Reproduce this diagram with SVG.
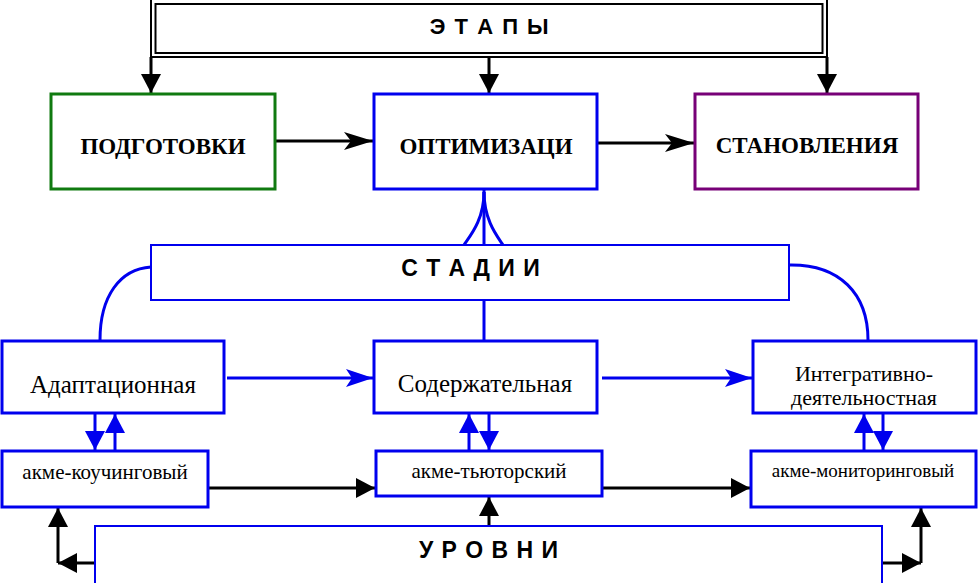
<svg xmlns="http://www.w3.org/2000/svg" width="978" height="583" viewBox="0 0 978 583">
<style>
.box{fill:#fff;stroke-width:3}
.bl{stroke:#0000ee}
.thin{stroke:#0000ee;stroke-width:2;fill:#fff}
.k{stroke:#000;stroke-width:3;fill:none}
.b{stroke:#0000ee;stroke-width:3;fill:none}
.hdr{font-family:"Liberation Sans",Arial,sans-serif;font-weight:bold;font-size:22px;letter-spacing:1.5px;text-anchor:middle;fill:#000}
.tb{font-family:"Liberation Serif","Times New Roman",serif;font-weight:bold;font-size:23px;text-anchor:middle;fill:#000}
.tn{font-family:"Liberation Serif","Times New Roman",serif;font-size:25px;text-anchor:middle;fill:#000}
.ts{font-family:"Liberation Serif","Times New Roman",serif;font-size:21px;text-anchor:middle;fill:#000}
</style>
<defs>
<marker id="tk" viewBox="0 0 19 20" refX="19" refY="10" markerWidth="19" markerHeight="20" markerUnits="userSpaceOnUse" orient="auto"><path d="M0,0 L19,10 L0,20 z" fill="#000"/></marker>
<marker id="tb" viewBox="0 0 19 20" refX="19" refY="10" markerWidth="19" markerHeight="20" markerUnits="userSpaceOnUse" orient="auto"><path d="M0,0 L19,10 L0,20 z" fill="#0000ee"/></marker>
<marker id="bk" viewBox="0 0 29 18" refX="29" refY="9" markerWidth="29" markerHeight="18" markerUnits="userSpaceOnUse" orient="auto"><path d="M0,0 L29,9 L0,18 L7,9 z" fill="#000"/></marker>
<marker id="bb" viewBox="0 0 27 18" refX="27" refY="9" markerWidth="27" markerHeight="18" markerUnits="userSpaceOnUse" orient="auto"><path d="M0,0 L27,9 L0,18 L6,9 z" fill="#0000ee"/></marker>
</defs>

<g id="connectors">
<path class="k" d="M151,57 V93" marker-end="url(#tk)"/>
<path class="k" d="M489,57 V93" marker-end="url(#tk)"/>
<path class="k" d="M827,57 V93" marker-end="url(#tk)"/>
<path class="k" d="M275,141 H373" marker-end="url(#bk)"/>
<path class="k" d="M597,143 H694" marker-end="url(#bk)"/>
<path class="b" d="M484,190 V245"/>
<path class="b" stroke-width="2.5" d="M484,192 C484,220 470,236 464,245"/>
<path class="b" stroke-width="2.5" d="M484,192 C484,220 497,236 503,245"/>
<path class="b" d="M484,300 V341"/>
<path class="b" d="M151,267 C120,269 100,296 100,340"/>
<path class="b" d="M789,265 C840,264 868,294 868,340"/>
<path class="b" d="M227,378 H373" marker-end="url(#bb)"/>
<path class="b" d="M602,378 H752" marker-end="url(#bb)"/>
<path class="b" d="M95,413 V450" marker-end="url(#tb)"/>
<path class="b" d="M115,451 V414" marker-end="url(#tb)"/>
<path class="b" d="M469,451 V414" marker-end="url(#tb)"/>
<path class="b" d="M489,413 V450" marker-end="url(#tb)"/>
<path class="b" d="M864,451 V414" marker-end="url(#tb)"/>
<path class="b" d="M883,413 V450" marker-end="url(#tb)"/>
<path class="k" d="M208,488 H375" marker-end="url(#tk)"/>
<path class="k" d="M602,488 H750" marker-end="url(#tk)"/>
<path class="k" d="M489,526 V497" marker-end="url(#tk)"/>
<path class="k" d="M95,563 H58" marker-end="url(#tk)"/>
<path class="k" d="M58,563 V508" marker-end="url(#tk)"/>
<path class="k" d="M882,563 H921" marker-end="url(#tk)"/>
<path class="k" d="M921,563 V508" marker-end="url(#tk)"/>
</g>

<g id="etapy">
<rect x="151" y="-3" width="676" height="60" fill="#fff" stroke="#000" stroke-width="2"/>
<rect x="155.5" y="4" width="667" height="49" fill="#fff" stroke="#000" stroke-width="2"/>
<text class="hdr" x="490" y="34">Э Т А П Ы</text>
</g>

<g id="podgotovki">
<rect class="box" x="51" y="94" width="224" height="95" stroke="#107a10"/>
<text class="tb" x="163" y="154">ПОДГОТОВКИ</text>
</g>
<g id="optimizatsi">
<rect class="box bl" x="374" y="94" width="223" height="95"/>
<text class="tb" x="486" y="154">ОПТИМИЗАЦИ</text>
</g>
<g id="stanovleniya">
<rect class="box" x="695" y="94" width="223" height="95" stroke="#770077"/>
<text class="tb" x="807" y="153">СТАНОВЛЕНИЯ</text>
</g>

<g id="stadii">
<rect class="thin" x="151" y="245" width="638" height="55"/>
<text class="hdr" x="471" y="276" style="font-size:23px;letter-spacing:1px">С Т А Д И И</text>
</g>

<g id="adaptatsionnaya">
<rect class="box bl" x="2" y="341" width="222" height="72"/>
<text class="tn" x="113" y="393">Адаптационная</text>
</g>
<g id="soderzhatelnaya">
<rect class="box bl" x="374" y="341" width="223" height="72"/>
<text class="tn" x="485" y="392">Содержательная</text>
</g>
<g id="integrativno">
<rect class="box bl" x="753" y="341" width="223" height="72"/>
<text class="tn" x="864" y="380.5" style="font-size:22px">Интегративно-<tspan x="864" y="405">деятельностная</tspan></text>
</g>

<g id="akme-kouchingovyi">
<rect class="box bl" x="2" y="451" width="206" height="56"/>
<text class="ts" x="105" y="479">акме-коучинговый</text>
</g>
<g id="akme-tyutorskii">
<rect class="box bl" x="376" y="451" width="226" height="45"/>
<text class="ts" x="489" y="478">акме-тьюторский</text>
</g>
<g id="akme-monitoringovyi">
<rect class="box bl" x="751" y="451" width="225" height="56"/>
<text class="ts" x="863" y="477" style="font-size:19px">акме-мониторинговый</text>
</g>

<g id="urovni">
<rect class="thin" x="95" y="526" width="787" height="60"/>
<text class="hdr" x="489" y="558" style="font-size:23px;letter-spacing:1px">У Р О В Н И</text>
</g>
</svg>
